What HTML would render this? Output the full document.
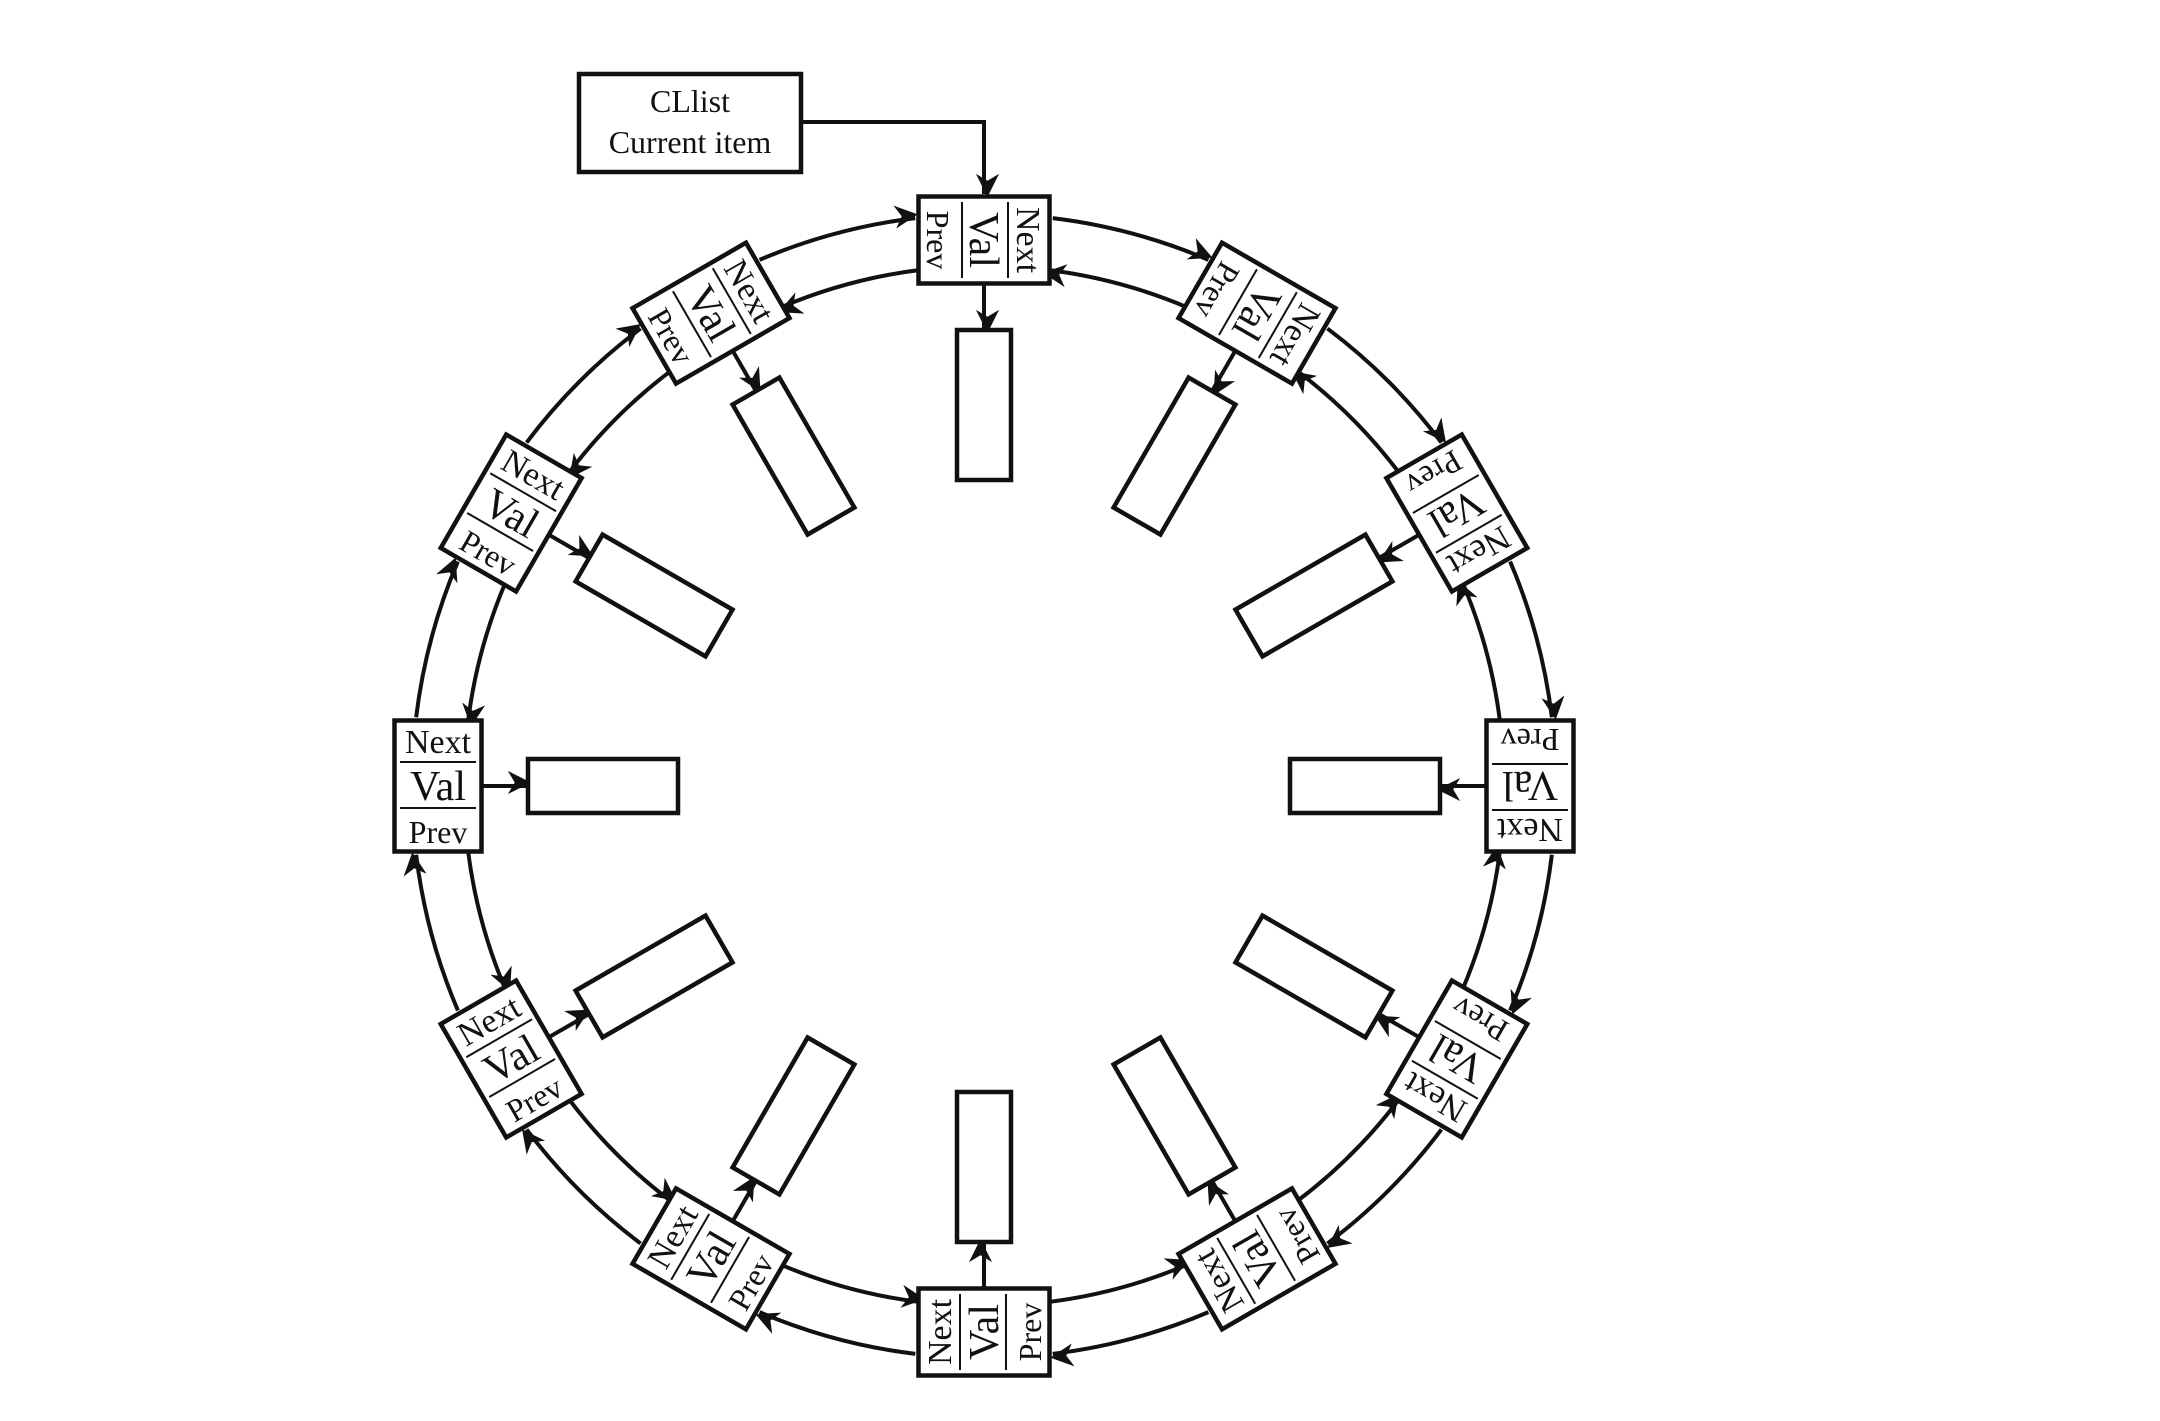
<!DOCTYPE html>
<html><head><meta charset="utf-8"><style>
html,body{margin:0;padding:0;background:#fff;}
svg{display:block;}
text{font-family:"Liberation Serif",serif;fill:#111;}
</style></head><body>
<svg id="d" width="2160" height="1421" viewBox="0 0 2160 1421" xmlns="http://www.w3.org/2000/svg">
<defs>
<marker id="ah" viewBox="0 0 10 10" refX="9" refY="5" markerWidth="7" markerHeight="7" markerUnits="userSpaceOnUse" orient="auto" style="overflow:visible">
<path d="M0,0 L10,5 L0,10 L3,5 z" fill="#111" transform="scale(3.3) translate(-6,-5)"/>
</marker>
</defs>
<g>
<rect x="579" y="74" width="222" height="98" fill="#fff" stroke="#111" stroke-width="4.5"/>
<text x="690" y="112" font-size="32" text-anchor="middle">CLlist</text>
<text x="690" y="153" font-size="32" text-anchor="middle">Current item</text>
</g>
<path id="hp" d="M801,122 L984,122 L984,194" fill="none" stroke="#111" stroke-width="4" marker-end="url(#ah)"/>
</svg>
<script>
const nodeLabels = ["Next","Val","Prev"];
const nodeCount = 12;
const angleStep = 30;
const svg = document.getElementById('d');
const NS = 'http://www.w3.org/2000/svg';
const cx = 984, cy = 786, R = 546, Rout = 572, Rin = 520, Rval = 381;
const nw = 87, nh = 131, vw = 150, vh = 54;
function mk(tag, attrs){const e=document.createElementNS(NS,tag);for(const k in attrs)e.setAttribute(k,attrs[k]);svg.appendChild(e);return e;}
function pt(r,deg){const a=deg*Math.PI/180;return [cx+r*Math.cos(a),cy+r*Math.sin(a)];}
const half = 6.9;
for(let i=0;i<nodeCount;i++){
  const th=-90+angleStep*i, th2=th+angleStep;
  let a=pt(Rout,th+half), b=pt(Rout,th2-half);
  const o=mk('path',{d:`M${a[0]},${a[1]} A${Rout},${Rout} 0 0 1 ${b[0]},${b[1]}`,fill:'none',stroke:'#111','stroke-width':4,'marker-end':'url(#ah)'});
  
  
  a=pt(Rin,th2-half); b=pt(Rin,th+half);
  const p=mk('path',{d:`M${a[0]},${a[1]} A${Rin},${Rin} 0 0 0 ${b[0]},${b[1]}`,fill:'none',stroke:'#111','stroke-width':4,'marker-end':'url(#ah)'});
  
  
}
for(let i=0;i<nodeCount;i++){
  const th=-90+angleStep*i;
  const c=pt(R,th), rot=th-180;
  const s=pt(R-nw/2,th), e=pt(Rval+vw/2,th);
  const ar=mk('line',{x1:s[0],y1:s[1],x2:e[0],y2:e[1],stroke:'#111','stroke-width':4,'marker-end':'url(#ah)'});
  
  
  const vc=pt(Rval,th);
  const vb=mk('rect',{x:-vw/2,y:-vh/2,width:vw,height:vh,fill:'#fff',stroke:'#111','stroke-width':4.5,transform:`translate(${vc[0]},${vc[1]}) rotate(${rot})`});
  
  
  const g=mk('g',{transform:`translate(${c[0]},${c[1]}) rotate(${rot})`});
  
  
  const r=document.createElementNS(NS,'rect');
  r.setAttribute('x',-nw/2);r.setAttribute('y',-nh/2);r.setAttribute('width',nw);r.setAttribute('height',nh);
  r.setAttribute('fill','#fff');r.setAttribute('stroke','#111');r.setAttribute('stroke-width',4.5);
  g.appendChild(r);
  const ys=[-33,14,57], sizes=[34,42,32];
  for(let k=0;k<3;k++){
    const t=document.createElementNS(NS,'text');
    t.setAttribute('x',0);t.setAttribute('y',ys[k]);t.setAttribute('font-size',sizes[k]);t.setAttribute('text-anchor','middle');
    t.textContent=nodeLabels[k];
    
    
    g.appendChild(t);
  }
  for(const ly of [-24,22]){
    const l=document.createElementNS(NS,'line');
    l.setAttribute('x1',-38);l.setAttribute('x2',38);l.setAttribute('y1',ly);l.setAttribute('y2',ly);
    l.setAttribute('stroke','#111');l.setAttribute('stroke-width',2);
    g.appendChild(l);
  }
}
</script>
</body></html>
